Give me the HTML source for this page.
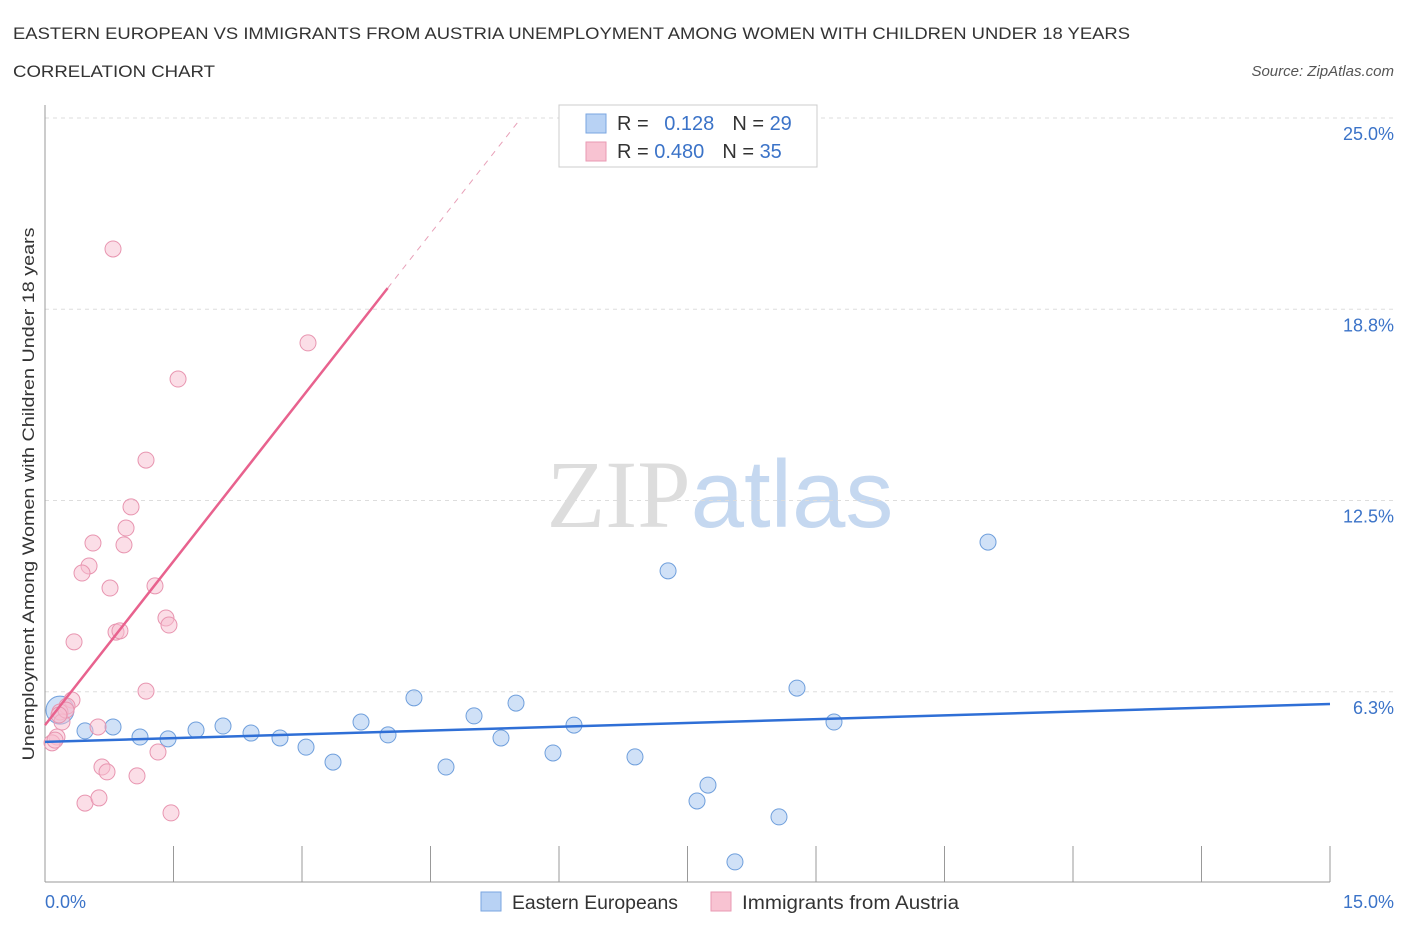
<!DOCTYPE html>
<html><head><meta charset="utf-8"><style>
body{margin:0;background:#fff;font-family:"Liberation Sans",sans-serif;}
svg text{font-family:"Liberation Sans",sans-serif;}
</style></head><body>
<svg id="chart" width="1406" height="930" xmlns="http://www.w3.org/2000/svg">
<text x="13" y="39" font-size="17" fill="#333" textLength="1117" lengthAdjust="spacingAndGlyphs">EASTERN EUROPEAN VS IMMIGRANTS FROM AUSTRIA UNEMPLOYMENT AMONG WOMEN WITH CHILDREN UNDER 18 YEARS</text>
<text x="13" y="77" font-size="17" fill="#333" textLength="202" lengthAdjust="spacingAndGlyphs">CORRELATION CHART</text>
<text x="1394" y="76" font-size="15" fill="#555" text-anchor="end" font-style="italic">Source: ZipAtlas.com</text>
<text x="720" y="527" font-size="96" text-anchor="middle"><tspan fill="#ddd" font-family="Liberation Serif">ZIP</tspan><tspan fill="#c5d8f0">atlas</tspan></text>
<g id="grid"></g>
<line x1="45" y1="105" x2="45" y2="882" stroke="#999"/>
<line x1="45" y1="882" x2="1330" y2="882" stroke="#999"/>
<text transform="translate(34,494) rotate(-90)" font-size="17" fill="#333" text-anchor="middle" textLength="533" lengthAdjust="spacingAndGlyphs">Unemployment Among Women with Children Under 18 years</text>
<text x="45" y="908" font-size="18" fill="#3b73c8">0.0%</text>
<text x="1394" y="908" font-size="18" fill="#3b73c8" text-anchor="end">15.0%</text>
<g id="marks"></g>
<g>
<rect x="559" y="105" width="258" height="62" fill="#fff" stroke="#ccc"/>
<rect x="586" y="114" width="20" height="19" fill="#b8d2f4" stroke="#7aa6e0"/>
<rect x="586" y="142" width="20" height="19" fill="#f8c3d2" stroke="#e99ab3"/>
<text x="617" y="130" font-size="20" fill="#333">R = <tspan fill="#3b73c8" dx="10">0.128</tspan><tspan dx="18" fill="#333">N = </tspan><tspan fill="#3b73c8">29</tspan></text>
<text x="617" y="158" font-size="20" fill="#333">R = <tspan fill="#3b73c8">0.480</tspan><tspan dx="18" fill="#333">N = </tspan><tspan fill="#3b73c8">35</tspan></text>
</g>
<g>
<rect x="481" y="892" width="20" height="19" fill="#b8d2f4" stroke="#7aa6e0"/>
<text x="512" y="909" font-size="19" fill="#333" textLength="166" lengthAdjust="spacingAndGlyphs">Eastern Europeans</text>
<rect x="711" y="892" width="20" height="19" fill="#f8c3d2" stroke="#e99ab3"/>
<text x="742" y="909" font-size="19" fill="#333" textLength="217" lengthAdjust="spacingAndGlyphs">Immigrants from Austria</text>
</g>
</svg>
<script>
const yTicks=[25.0,18.8,12.5,6.3];
const yTickValues=[25,18.75,12.5,6.25];
const xTickValues=[0,1.5,3,4.5,6,7.5,9,10.5,12,13.5,15];
const blueX=[0.175,0.467,0.794,1.109,1.436,1.763,2.078,2.405,2.743,3.047,3.362,3.689,4.004,4.307,4.681,5.008,5.323,5.498,5.930,6.175,6.887,7.273,7.611,7.739,8.054,8.568,8.778,9.210,11.008];
const blueY=[5.65,4.97,5.10,4.77,4.71,5.00,5.13,4.90,4.74,4.44,3.95,5.26,4.84,6.05,3.79,5.46,4.74,5.88,4.25,5.16,4.12,10.20,2.68,3.20,0.69,2.16,6.37,5.26,11.14];
const pinkX=[0.794,3.070,1.553,1.179,1.004,0.946,0.560,0.922,0.514,0.432,0.759,1.284,1.412,1.447,0.829,0.875,0.339,1.179,0.315,0.257,0.175,0.198,0.140,0.082,0.619,0.665,0.724,1.074,1.319,0.467,0.630,1.471,0.117,0.245,0.163];
const pinkY=[20.72,17.65,16.47,13.82,12.29,11.60,11.11,11.05,10.36,10.13,9.64,9.71,8.66,8.43,8.20,8.24,7.88,6.27,5.98,5.78,5.59,5.26,4.77,4.58,5.10,3.79,3.63,3.50,4.28,2.61,2.78,2.29,4.67,5.65,5.49];
const blueTrend=[4.61,5.85];
const pinkTrend=[5.16,3.57];
const NS="http://www.w3.org/2000/svg";
const sx=v=>45+v*1285/15;
const sy=v=>883-v*30.6;
function mk(tag,attrs,parent){const e=document.createElementNS(NS,tag);for(const k in attrs)e.setAttribute(k,attrs[k]);parent.appendChild(e);return e;}
const grid=document.getElementById('grid'),marks=document.getElementById('marks');
yTickValues.forEach((v,i)=>{
 const l=mk('line',{x1:45,x2:1394,y1:sy(v),y2:sy(v),stroke:'#ddd','stroke-dasharray':'4,4'},grid);
 
 
 const t=mk('text',{x:1394,y:sy(v)+22,'font-size':18,fill:'#3b73c8','text-anchor':'end'},grid);
 t.textContent=yTicks[i].toFixed(1)+'%';
 
 
});
xTickValues.forEach(v=>{
 const l=mk('line',{x1:sx(v),x2:sx(v),y1:846,y2:882,stroke:'#999'},grid);
 
 
});
blueX.forEach((x,i)=>{
 const c=mk('circle',{cx:sx(x),cy:sy(blueY[i]),r:i==0?14:8,fill:'rgba(170,200,240,0.55)',stroke:'#6f9fdc','stroke-width':1},marks);
 
 
});
pinkX.forEach((x,i)=>{
 const c=mk('circle',{cx:sx(x),cy:sy(pinkY[i]),r:8,fill:'rgba(248,190,208,0.5)',stroke:'#e895b0','stroke-width':1},marks);
 
 
});
const bl=mk('line',{x1:sx(0),y1:sy(blueTrend[0]),x2:sx(15),y2:sy(blueTrend[1]),stroke:'#2f6fd6','stroke-width':2.5},marks);


const xe=4.0, xd=(25-pinkTrend[0])/pinkTrend[1];
const pl=mk('line',{x1:sx(0),y1:sy(pinkTrend[0]),x2:sx(xe),y2:sy(pinkTrend[0]+pinkTrend[1]*xe),stroke:'#e8628e','stroke-width':2.5},marks);


const pd=mk('line',{x1:sx(xe),y1:sy(pinkTrend[0]+pinkTrend[1]*xe),x2:sx(xd),y2:sy(25),stroke:'#e8a0b8','stroke-width':1,'stroke-dasharray':'6,6'},marks);


</script>
</body></html>
